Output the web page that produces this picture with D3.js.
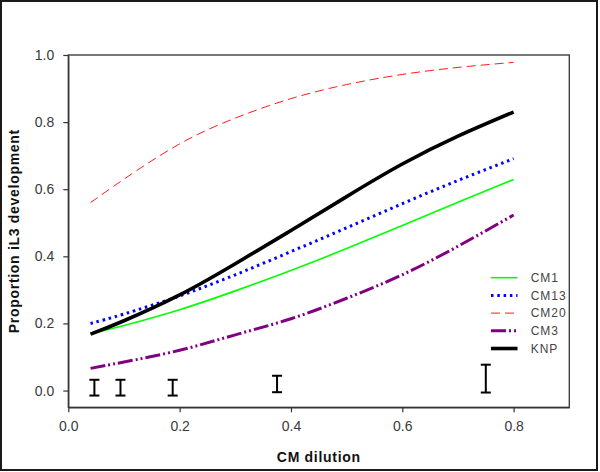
<!DOCTYPE html>
<html>
<head>
<meta charset="utf-8">
<script src="https://cdn.jsdelivr.net/npm/d3@7"></script>
<style>
  html, body { margin: 0; padding: 0; background: #fff; }
  svg { display: block; font-family: "Liberation Sans", Arial, sans-serif; }
</style>
</head>
<body>
<svg id="chart" width="600" height="472"></svg>
<script>
// ---- data ----
const dilution = [0.04, 0.1, 0.2, 0.3, 0.4, 0.5, 0.6, 0.7, 0.8];
const cm1  = [0.169, 0.194, 0.241, 0.297, 0.358, 0.423, 0.492, 0.561, 0.629];
const cm13 = [0.200, 0.228, 0.282, 0.345, 0.414, 0.485, 0.557, 0.626, 0.691];
const cm20 = [0.560, 0.630, 0.735, 0.812, 0.870, 0.912, 0.942, 0.963, 0.978];
const cm3  = [0.066, 0.085, 0.120, 0.166, 0.214, 0.275, 0.345, 0.430, 0.523];
const knp  = [0.168, 0.208, 0.285, 0.378, 0.477, 0.578, 0.675, 0.758, 0.830];

const errX  = [0.046875, 0.09375, 0.1875, 0.375, 0.75];
const errLo = [-0.015, -0.015, -0.015, -0.005, -0.006];
const errHi = [0.032, 0.032, 0.032, 0.044, 0.077];

const seriesNames = ["CM1", "CM13", "CM20", "CM3", "KNP"];
const xTicks = [0, 0.2, 0.4, 0.6, 0.8];
const yTicks = [0, 0.2, 0.4, 0.6, 0.8, 1.0];

// ---- styles ----
const styles = {
  CM1:  { color: "#00ff00", width: 1.6, dash: null },
  CM13: { color: "#0000ff", width: 3,   dash: "2.5,3.8" },
  CM20: { color: "#ff1a1a", width: 1,   dash: "9,5" },
  CM3:  { color: "#800080", width: 3,   dash: "15,3,2,3,2,3" },
  KNP:  { color: "#000000", width: 3.6, dash: null }
};
const values = { CM1: cm1, CM13: cm13, CM20: cm20, CM3: cm3, KNP: knp };

const svg = d3.select("#chart");

// outer frame
svg.append("rect").attr("x", 1).attr("y", 1).attr("width", 596).attr("height", 469)
  .attr("fill", "#fff").attr("stroke", "#1a1a1a").attr("stroke-width", 2);

const L = 68.3, R = 569.3, T = 55, B = 407.3;
const x = d3.scaleLinear().domain([0, 0.9]).range([L, R]);
const y = d3.scaleLinear().domain([-0.05, 1.0]).range([B, T]);

// plot box
svg.append("rect").attr("x", L).attr("y", T).attr("width", R - L).attr("height", B - T)
  .attr("fill", "none").attr("stroke", "#333").attr("stroke-width", 1.3);

// axes
const xAxis = d3.axisBottom(x).tickValues(xTicks).tickFormat(d3.format(".1f"))
  .tickSize(5).tickPadding(9).tickSizeOuter(0);
const yAxis = d3.axisLeft(y).tickValues(yTicks).tickFormat(d3.format(".1f"))
  .tickSize(5).tickPadding(9).tickSizeOuter(0);

const gx = svg.append("g").attr("transform", `translate(0,${B})`).call(xAxis);
const gy = svg.append("g").attr("transform", `translate(${L},0)`).call(yAxis);
[gx, gy].forEach(g => {
  g.select(".domain").attr("stroke", "#333").attr("stroke-width", 1.3);
  g.selectAll(".tick line").attr("stroke", "#333").attr("stroke-width", 1.2);
  g.selectAll(".tick text").attr("fill", "#3a3a3a").style("font-size", "14px")
    .style("font-family", '"Liberation Sans", Arial, sans-serif');
});

// axis titles
svg.append("text").attr("x", (L + R) / 2).attr("y", 462)
  .attr("text-anchor", "middle").style("font-weight", "bold").style("font-size", "14px")
  .style("letter-spacing", "0.7px").attr("fill", "#111").text("CM dilution");
svg.append("text").attr("transform", `translate(18.5,${(T + B) / 2}) rotate(-90)`)
  .attr("text-anchor", "middle").style("font-weight", "bold").style("font-size", "14px")
  .style("letter-spacing", "0.7px").attr("fill", "#111").text("Proportion iL3 development");

// curves
const line = d3.line().x(d => x(d[0])).y(d => y(d[1])).curve(d3.curveNatural);
const drawOrder = ["CM20", "CM3", "CM1", "CM13", "KNP"];
drawOrder.forEach(name => {
  const s = styles[name];
  const pts = dilution.map((d, i) => [d, values[name][i]]);
  svg.append("path").datum(pts).attr("d", line)
    .attr("fill", "none").attr("stroke", s.color).attr("stroke-width", s.width)
    .attr("stroke-dasharray", s.dash).attr("stroke-linecap", "butt");
});

// error bars
const capW = 5;
errX.forEach((ex, i) => {
  const g = svg.append("g").attr("stroke", "#000").attr("stroke-width", 2);
  g.append("line").attr("x1", x(ex)).attr("x2", x(ex)).attr("y1", y(errLo[i])).attr("y2", y(errHi[i]));
  g.append("line").attr("x1", x(ex) - capW).attr("x2", x(ex) + capW).attr("y1", y(errLo[i])).attr("y2", y(errLo[i]));
  g.append("line").attr("x1", x(ex) - capW).attr("x2", x(ex) + capW).attr("y1", y(errHi[i])).attr("y2", y(errHi[i]));
});

// legend
const legY0 = 277.7, legDy = 17.7;
seriesNames.forEach((name, i) => {
  const s = styles[name];
  const yy = legY0 + i * legDy;
  svg.append("line").attr("x1", 491).attr("x2", 517.5).attr("y1", yy).attr("y2", yy)
    .attr("stroke", s.color).attr("stroke-width", s.width).attr("stroke-dasharray", s.dash);
  svg.append("text").attr("x", 530.7).attr("y", yy).attr("dy", "0.36em")
    .style("font-size", "12px").style("letter-spacing", "1px").attr("fill", "#444").text(name);
});
</script>
</body>
</html>
